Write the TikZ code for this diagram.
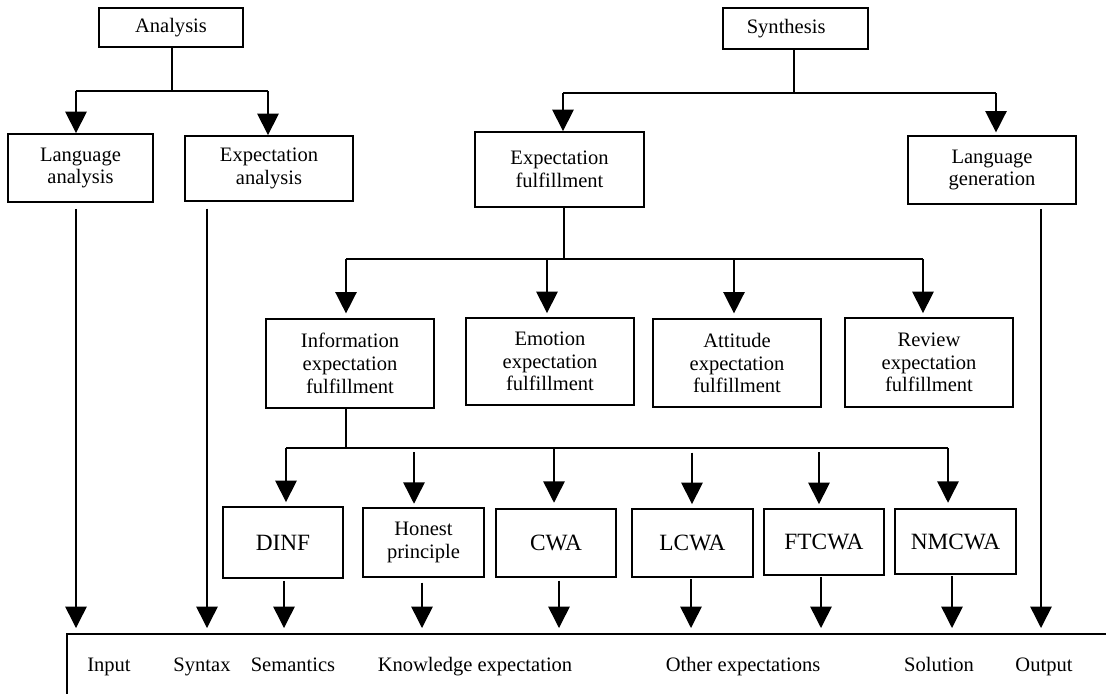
\documentclass[tikz,border=0pt]{standalone}
\usepackage{fontspec}
\setmainfont{Liberation Serif}
\usetikzlibrary{arrows.meta}
\begin{document}
\begin{tikzpicture}[x=0.75pt,y=-0.75pt,
  box/.style={draw,line width=1.4pt,inner sep=0pt,align=center,font=\fontsize{15.4}{17}\selectfont},
  bigbox/.style={box,font=\fontsize{17.5}{20}\selectfont},
  ln/.style={line width=1.1pt},
  arr/.style={ln,-{Triangle[length=16pt,width=16pt]}},
  lbl/.style={font=\fontsize{15.4}{17}\selectfont,inner sep=0pt,anchor=base}]
\useasboundingbox (0,0) rectangle (1106,694);
\fill[white] (0,0) rectangle (1106,694);

% boxes
\node[box,minimum width=108pt,minimum height=29.25pt] (ana) at (171,27.5) {Analysis};
\node[box,minimum width=108.75pt,minimum height=30.75pt] (syn) at (795.5,28.5) {\hspace*{-14pt}Synthesis};
\node[box,minimum width=108.75pt,minimum height=51pt] (la) at (80.5,168) {Language\\analysis};
\node[box,minimum width=126pt,minimum height=48.75pt] (ea) at (269,168.5) {Expectation\\analysis};
\node[box,minimum width=126.75pt,minimum height=56.25pt] (ef) at (559.5,169.5) {Expectation\\fulfillment};
\node[box,minimum width=126pt,minimum height=51pt] (lg) at (992,170) {Language\\generation};

\node[box,minimum width=126pt,minimum height=66.75pt] (info) at (350,363.5) {Information\\expectation\\fulfillment};
\node[box,minimum width=126pt,minimum height=65.25pt] (emo) at (550,361.5) {Emotion\\expectation\\fulfillment};
\node[box,minimum width=126pt,minimum height=66pt] (att) at (737,363) {Attitude\\expectation\\fulfillment};
\node[box,minimum width=126pt,minimum height=66.75pt] (rev) at (929,362.5) {Review\\expectation\\fulfillment};

\node[bigbox,minimum width=90pt,minimum height=53.25pt] (dinf) at (283,542.5) {DINF};
\node[box,minimum width=90.75pt,minimum height=51.75pt] (hon) at (423.5,542.5) {Honest\\principle};
\node[bigbox,minimum width=90pt,minimum height=51pt] (cwa) at (556,543) {CWA};
\node[bigbox,minimum width=90.75pt,minimum height=51pt] (lcwa) at (692.5,543) {LCWA};
\node[bigbox,minimum width=90pt,minimum height=49.5pt] (ftcwa) at (824,542) {FTCWA};
\node[bigbox,minimum width=90.75pt,minimum height=48.75pt] (nmcwa) at (955.5,541.5) {NMCWA};

% analysis tree
\coordinate (a0) at (172,91);
\coordinate (a1) at (76,91);
\coordinate (a2) at (268,91);
\draw[ln] (ana.south -| a0) -- (a0);
\draw[ln] (a1) -- (a2);
\draw[arr] (a1) -- (a1 |- la.north);
\draw[arr] (a2) -- (a2 |- ea.north);

% synthesis tree
\coordinate (s0) at (794,93);
\coordinate (s1) at (563,93);
\coordinate (s2) at (996,93);
\draw[ln] (syn.south -| s0) -- (s0);
\draw[ln] (s1) -- (s2);
\draw[arr] (s1) -- (s1 |- ef.north);
\draw[arr,shorten >=2pt] (s2) -- (s2 |- lg.north);

% expectation fulfillment tree
\coordinate (e0) at (564,259);
\coordinate (m1) at (346,259);
\coordinate (m2) at (547,259);
\coordinate (m3) at (734,259);
\coordinate (m4) at (923,259);
\draw[ln] (ef.south -| e0) -- (e0);
\draw[ln] (m1) -- (m4);
\draw[arr,shorten >=3.5pt] (m1) -- (m1 |- info.north);
\draw[arr,shorten >=3pt] (m2) -- (m2 |- emo.north);
\draw[arr,shorten >=3.5pt] (m3) -- (m3 |- att.north);
\draw[arr,shorten >=3pt] (m4) -- (m4 |- rev.north);

% information expectation tree
\coordinate (i0) at (346,448);
\coordinate (b1) at (286,448);
\coordinate (b2) at (414,448);
\coordinate (b3) at (554,448);
\coordinate (b4) at (692,448);
\coordinate (b5) at (819,448);
\coordinate (b6) at (948,448);
\draw[ln] (info.south -| i0) -- (i0);
\draw[ln] (b1) -- (b6);
\draw[arr,shorten >=3pt] (b1) -- (b1 |- dinf.north);
\draw[arr,shorten <=3pt,shorten >=2.5pt] (b2) -- (b2 |- hon.north);
\draw[arr,shorten >=4pt] (b3) -- (b3 |- cwa.north);
\draw[arr,shorten <=3.5pt,shorten >=3pt] (b4) -- (b4 |- lcwa.north);
\draw[arr,shorten <=3pt,shorten >=3pt] (b5) -- (b5 |- ftcwa.north);
\draw[arr,shorten >=4pt] (b6) -- (b6 |- nmcwa.north);

% tips on the base line
\coordinate (tIn) at (76,628);
\coordinate (tSyn) at (207,628);
\coordinate (tSem) at (284,628);
\coordinate (tKn) at (422,628);
\coordinate (tCwa) at (559,628);
\coordinate (tL) at (691,628);
\coordinate (tF) at (821,628);
\coordinate (tN) at (952,628);
\coordinate (tOut) at (1041,628);
\draw[arr,shorten <=4.5pt] (la.south -| tIn) -- (tIn);
\draw[arr,shorten <=5pt] (ea.south -| tSyn) -- (tSyn);
\draw[arr,shorten <=3pt] (lg.south -| tOut) -- (tOut);
\draw[arr,shorten <=1.5pt] (dinf.south -| tSem) -- (tSem);
\draw[arr,shorten <=3.5pt] (hon.south -| tKn) -- (tKn);
\draw[arr,shorten <=2pt] (cwa.south -| tCwa) -- (tCwa);
\draw[arr,shorten <=1pt] (lcwa.south -| tL) -- (tL);
\draw[arr,shorten <=1pt] (ftcwa.south -| tF) -- (tF);
\draw[arr,shorten <=1pt] (nmcwa.south -| tN) -- (tN);

% base frame
\draw[line width=1.4pt] (1106,634) -- (67,634) -- (67,694);

% base labels
\node[lbl] (lInput) at (109,671) {Input};
\node[lbl] (lSyntax) at (202,671) {Syntax};
\node[lbl] (lSem) at (293,671) {Semantics};
\node[lbl] (lKn) at (475,671) {Knowledge expectation};
\node[lbl] (lOther) at (743,671) {Other expectations};
\node[lbl] (lSol) at (939,671) {Solution};
\node[lbl] (lOut) at (1044,671) {Output};
\end{tikzpicture}
\end{document}
